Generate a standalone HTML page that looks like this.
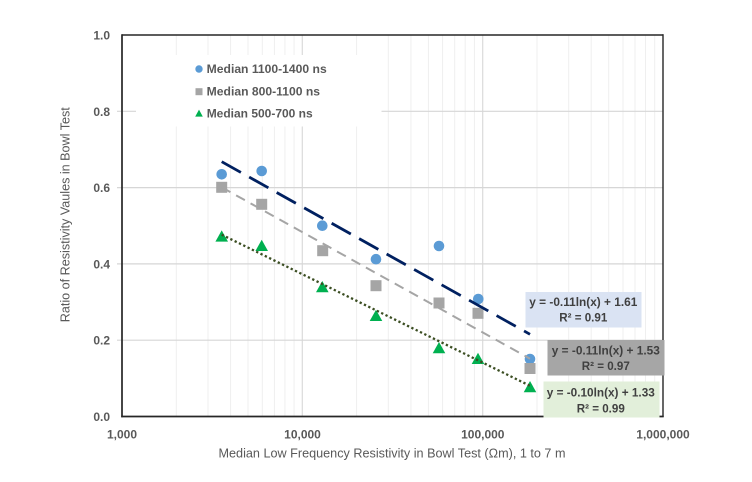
<!DOCTYPE html>
<html>
<head>
<meta charset="utf-8">
<style>
  html,body{margin:0;padding:0;background:#fff;}
  svg{display:block;}
  text{font-family:"Liberation Sans",Arial,sans-serif;}
</style>
</head>
<body>
<svg width="752" height="482" viewBox="0 0 752 482" xmlns="http://www.w3.org/2000/svg">
  <rect x="0" y="0" width="752" height="482" fill="#ffffff"/>

  <!-- vertical minor gridlines -->
  <g stroke="#efefef" stroke-width="1">
    <line x1="176.3" y1="35" x2="176.3" y2="416.5"/>
    <line x1="208.0" y1="35" x2="208.0" y2="416.5"/>
    <line x1="230.6" y1="35" x2="230.6" y2="416.5"/>
    <line x1="248.0" y1="35" x2="248.0" y2="416.5"/>
    <line x1="262.3" y1="35" x2="262.3" y2="416.5"/>
    <line x1="274.4" y1="35" x2="274.4" y2="416.5"/>
    <line x1="284.9" y1="35" x2="284.9" y2="416.5"/>
    <line x1="294.1" y1="35" x2="294.1" y2="416.5"/>
    <line x1="356.6" y1="35" x2="356.6" y2="416.5"/>
    <line x1="388.3" y1="35" x2="388.3" y2="416.5"/>
    <line x1="410.9" y1="35" x2="410.9" y2="416.5"/>
    <line x1="428.4" y1="35" x2="428.4" y2="416.5"/>
    <line x1="442.6" y1="35" x2="442.6" y2="416.5"/>
    <line x1="454.7" y1="35" x2="454.7" y2="416.5"/>
    <line x1="465.2" y1="35" x2="465.2" y2="416.5"/>
    <line x1="474.4" y1="35" x2="474.4" y2="416.5"/>
    <line x1="537.0" y1="35" x2="537.0" y2="416.5"/>
    <line x1="568.7" y1="35" x2="568.7" y2="416.5"/>
    <line x1="591.2" y1="35" x2="591.2" y2="416.5"/>
    <line x1="608.7" y1="35" x2="608.7" y2="416.5"/>
    <line x1="623.0" y1="35" x2="623.0" y2="416.5"/>
    <line x1="635.0" y1="35" x2="635.0" y2="416.5"/>
    <line x1="645.5" y1="35" x2="645.5" y2="416.5"/>
    <line x1="654.7" y1="35" x2="654.7" y2="416.5"/>
  </g>
  <!-- vertical major gridlines -->
  <g stroke="#dadada" stroke-width="1.2">
    <line x1="302.3" y1="35" x2="302.3" y2="416.5"/>
    <line x1="482.7" y1="35" x2="482.7" y2="416.5"/>
  </g>
  <!-- horizontal gridlines -->
  <g stroke="#d6d6d6" stroke-width="1.2">
    <line x1="117" y1="111.3" x2="663" y2="111.3"/>
    <line x1="117" y1="187.6" x2="663" y2="187.6"/>
    <line x1="117" y1="263.9" x2="663" y2="263.9"/>
    <line x1="117" y1="340.2" x2="663" y2="340.2"/>
  </g>

  <!-- legend background -->
  <rect x="136" y="55" width="245.5" height="71.5" fill="#ffffff"/>

  <!-- axes / border -->
  <g stroke="#262626" fill="none">
    <line x1="122" y1="35" x2="663.5" y2="35" stroke-width="1.4"/>
    <line x1="663" y1="34.3" x2="663" y2="417" stroke-width="1.4"/>
    <line x1="122" y1="34.3" x2="122" y2="417.3" stroke-width="1.7"/>
    <line x1="121.2" y1="416.5" x2="663.7" y2="416.5" stroke-width="1.7"/>
  </g>

  <!-- Y tick labels -->
  <g font-size="12" font-weight="bold" fill="#595959" text-anchor="end">
    <text x="110" y="39.5">1.0</text>
    <text x="110" y="115.8">0.8</text>
    <text x="110" y="192.1">0.6</text>
    <text x="110" y="268.4">0.4</text>
    <text x="110" y="344.7">0.2</text>
    <text x="110" y="421">0.0</text>
  </g>
  <!-- X tick labels -->
  <g font-size="12" font-weight="bold" fill="#595959" text-anchor="middle">
    <text x="122" y="438.5">1,000</text>
    <text x="302.5" y="438.5">10,000</text>
    <text x="482.8" y="438.5">100,000</text>
    <text x="663" y="438.5">1,000,000</text>
  </g>

  <!-- axis titles -->
  <text x="392" y="457.5" font-size="12.5" fill="#595959" text-anchor="middle" textLength="347" lengthAdjust="spacingAndGlyphs">Median Low Frequency Resistivity in Bowl Test (Ωm), 1 to 7 m</text>
  <text transform="translate(69.5,214.7) rotate(-90)" x="0" y="0" font-size="12.5" fill="#595959" text-anchor="middle" textLength="215" lengthAdjust="spacingAndGlyphs">Ratio of Resistivity Vaules in Bowl Test</text>

  <!-- legend -->
  <circle cx="199" cy="69" r="3.7" fill="#5b9bd5"/>
  <rect x="195.5" y="88.2" width="7" height="7" fill="#a5a5a5"/>
  <polygon points="199,109.6 195.2,116.6 202.8,116.6" fill="#00b050"/>
  <g font-size="12" font-weight="bold" fill="#595959">
    <text x="206.7" y="73" textLength="120" lengthAdjust="spacingAndGlyphs">Median 1100-1400 ns</text>
    <text x="206.7" y="95.5" textLength="113.3" lengthAdjust="spacingAndGlyphs">Median 800-1100 ns</text>
    <text x="206.7" y="117.7" textLength="106" lengthAdjust="spacingAndGlyphs">Median 500-700 ns</text>
  </g>

  <!-- blue series -->
  <g fill="#5b9bd5">
    <circle cx="221.7" cy="174.3" r="5.3"/>
    <circle cx="261.7" cy="171" r="5.3"/>
    <circle cx="322.3" cy="225.7" r="5.3"/>
    <circle cx="376" cy="259.2" r="5.3"/>
    <circle cx="439" cy="246" r="5.3"/>
    <circle cx="478.3" cy="299" r="5.3"/>
    <circle cx="530" cy="359" r="5.3"/>
  </g>
  <!-- gray series -->
  <g fill="#a5a5a5">
    <rect x="216.2" y="181.8" width="11" height="11"/>
    <rect x="256.2" y="198.8" width="11" height="11"/>
    <rect x="317.2" y="245.2" width="11" height="11"/>
    <rect x="370.5" y="280.2" width="11" height="11"/>
    <rect x="433.5" y="297.5" width="11" height="11"/>
    <rect x="472.5" y="307.8" width="11" height="11"/>
    <rect x="524.5" y="363" width="11" height="11"/>
  </g>
  <!-- green series -->
  <g fill="#00b050">
    <polygon points="221.7,230.4 215.4,241.6 228,241.6"/>
    <polygon points="261.7,239.8 255.4,251 268,251"/>
    <polygon points="322.3,281 316,292.2 328.6,292.2"/>
    <polygon points="376,309.8 369.7,321 382.3,321"/>
    <polygon points="439,342 432.7,353.2 445.3,353.2"/>
    <polygon points="478,352.8 471.7,364 484.3,364"/>
    <polygon points="530,381 523.7,392.2 536.3,392.2"/>
  </g>

  <!-- trendlines -->
  <line x1="221.7" y1="161.7" x2="530" y2="334.3" stroke="#002060" stroke-width="2.8" stroke-dasharray="22 9.5"/>
  <line x1="221.7" y1="187.3" x2="530" y2="358.7" stroke="#a5a5a5" stroke-width="2" stroke-dasharray="10 6.5"/>
  <line x1="221.7" y1="234.7" x2="530" y2="385.8" stroke="#3b4e22" stroke-width="2.3" stroke-dasharray="2.3 2.5"/>

  <!-- equation labels -->
  <rect x="525.5" y="292" width="116" height="35.5" fill="#dae3f3"/>
  <rect x="547.5" y="340" width="117" height="35.5" fill="#a6a6a6"/>
  <rect x="543.5" y="381.5" width="116" height="36" fill="#e2efda"/>
  <g font-size="12" font-weight="bold" fill="#404040" text-anchor="middle">
    <text x="583.3" y="306" textLength="108" lengthAdjust="spacingAndGlyphs">y = -0.11ln(x) + 1.61</text>
    <text x="583.3" y="321.7" textLength="48" lengthAdjust="spacingAndGlyphs">R² = 0.91</text>
    <text x="605.8" y="354.3" textLength="108" lengthAdjust="spacingAndGlyphs">y = -0.11ln(x) + 1.53</text>
    <text x="605.8" y="370" textLength="48" lengthAdjust="spacingAndGlyphs">R² = 0.97</text>
    <text x="600.8" y="396.7" textLength="108" lengthAdjust="spacingAndGlyphs">y = -0.10ln(x) + 1.33</text>
    <text x="600.8" y="412.3" textLength="48" lengthAdjust="spacingAndGlyphs">R² = 0.99</text>
  </g>
</svg>
</body>
</html>
